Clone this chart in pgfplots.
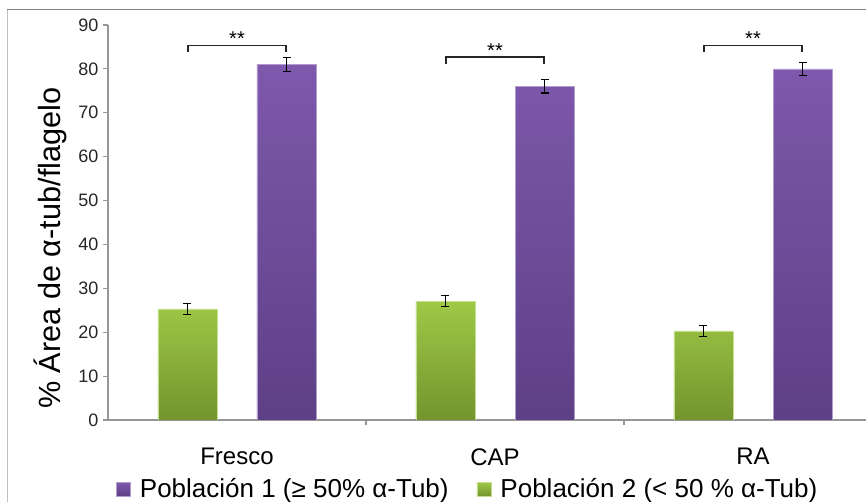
\documentclass[border=0pt]{standalone}
\usepackage{fontspec}
\setmainfont{Liberation Sans}
\usepackage{pgfplots}
\pgfplotsset{compat=1.18}
\definecolor{grtop}{RGB}{158,201,70}
\definecolor{grbot}{RGB}{116,148,46}
\definecolor{putop}{RGB}{126,88,172}
\definecolor{pubot}{RGB}{94,64,134}
\definecolor{axgray}{RGB}{150,150,150}
\begin{document}
\begin{tikzpicture}
\useasboundingbox (0,0) rectangle (649.5pt,376.5pt);
\draw[black!25, line width=0.75pt] (5.25pt,0pt) -- (5.25pt,369pt);
\draw[black!50, line width=0.75pt] (5.25pt,369pt) -- (649.5pt,369pt);
\begin{axis}[
  at={(81pt,61.5pt)}, anchor=south west,
  width=568.5pt, height=296.25pt, scale only axis,
  xmin=-0.5, xmax=2.438, ymin=0, ymax=90,
  axis x line*=bottom, axis y line*=left,
  axis line style={-, draw=axgray, line width=0.8pt},
  ytick={0,10,...,90},
  xtick={0,1,2}, xticklabels={Fresco,CAP,RA},
  extra x ticks={0.5,1.5}, extra x tick labels={},
  tick align=outside,
  xtick style={draw=none},
  extra x tick style={xtick style={draw=axgray, line width=0.8pt}, major tick length=4pt},
  ytick style={draw=axgray, line width=0.8pt},
  major tick length=3.75pt,
  /pgf/number format/assume math mode=true,
  yticklabel style={font=\fontsize{13.5}{14}\selectfont, text=black!85},
  xticklabel style={font=\fontsize{18}{19}\selectfont, yshift=-14pt},
  ylabel={\% Área de α-tub/flagelo},
  ylabel style={font=\fontsize{23}{25}\selectfont, at={(axis description cs:-0.0765,0.435)}, anchor=center},
  legend columns=2,
  legend style={draw=none, fill=none, at={(axis description cs:0.005,-0.175)}, anchor=west,
    font=\fontsize{19.5}{21}\selectfont,
    /tikz/every odd column/.append style={column sep=5pt},
    /tikz/every even column/.append style={column sep=19pt}},
  legend image code/.code={\fill[#1] (0pt,-5.25pt) rectangle (10.5pt,5.25pt);},
]
\addplot[ybar, bar width=0.229, bar shift=0pt, draw=putop!60!white, line width=0.4pt,
  top color=putop, bottom color=pubot,
  error bars/.cd, y dir=both, y explicit,
  error bar style={black, line width=0.8pt},
  error mark options={black, rotate=90, mark size=3pt, line width=0.8pt}]
  coordinates {(0.192,81.0) +- (0,1.5) (1.192,76.0) +- (0,1.5) (2.192,80.0) +- (0,1.5)};
\addlegendentry{Población 1 (≥ 50\% α-Tub)}
\addplot[ybar, bar width=0.229, bar shift=0pt, draw=grtop!60!white, line width=0.4pt,
  top color=grtop, bottom color=grbot,
  error bars/.cd, y dir=both, y explicit,
  error bar style={black, line width=0.8pt},
  error mark options={black, rotate=90, mark size=3pt, line width=0.8pt}]
  coordinates {(-0.192,25.3) +- (0,1.2) (0.808,27.1) +- (0,1.2) (1.808,20.3) +- (0,1.3)};
\addlegendentry{Población 2 (< 50 \% α-Tub)}
\draw[black!85, line width=0.9pt] (axis cs:-0.19,83.8) |- (axis cs:0.19,85.4) -- (axis cs:0.19,83.8);
\draw[black!85, line width=0.9pt] (axis cs:0.81,81.0) |- (axis cs:1.19,82.7) -- (axis cs:1.19,81.0);
\draw[black!85, line width=0.9pt] (axis cs:1.81,83.8) |- (axis cs:2.19,85.4) -- (axis cs:2.19,83.8);
\node[font=\fontsize{15}{16}\selectfont] at (axis cs:0,87.0) {**};
\node[font=\fontsize{15}{16}\selectfont] at (axis cs:1,84.2) {**};
\node[font=\fontsize{15}{16}\selectfont] at (axis cs:2,87.0) {**};
\end{axis}
\end{tikzpicture}
\end{document}
